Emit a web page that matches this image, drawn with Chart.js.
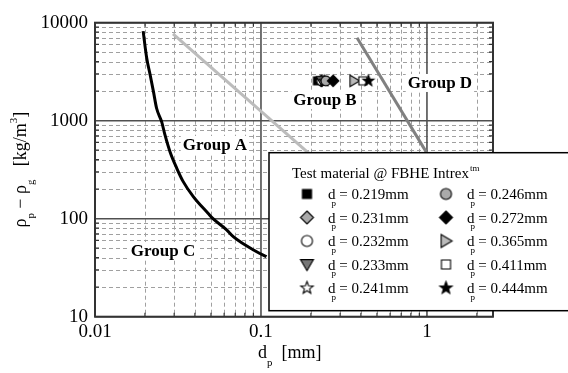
<!DOCTYPE html>
<html>
<head>
<meta charset="utf-8">
<script src="https://cdn.jsdelivr.net/npm/chart.js@4.4.1/dist/chart.umd.min.js"></script>
<style>
  html, body { margin: 0; padding: 0; background: #fff; }
</style>
</head>
<body>
<canvas id="grafico" width="568" height="373"></canvas>
<script>
// Límite entre grupos A y C (curva negra)
const limiteAC_x = [0.0195, 0.0205, 0.0215, 0.0225, 0.0235, 0.0252, 0.0264, 0.0283, 0.0311, 0.0340, 0.0391, 0.0481, 0.0514, 0.0621, 0.0681, 0.0942, 0.108];
const limiteAC_y = [8200, 4330, 2930, 1980, 1340, 977, 715, 483, 327, 239, 168, 113, 100, 77, 65.5, 46, 41];

// Límite entre grupos A y B (gris claro)
const limiteAB_x = [0.0295, 0.3];
const limiteAB_y = [7700, 243];

// Límite entre grupos B y D (gris oscuro)
const limiteBD_x = [0.379, 1.2];
const limiteBD_y = [7030, 280];

// Material de prueba @ FBHE Intrex
const diametros = [0.219, 0.231, 0.232, 0.233, 0.241, 0.246, 0.272, 0.365, 0.411, 0.444];
const densidades = [2550, 2550, 2550, 2550, 2550, 2550, 2550, 2550, 2550, 2550];
const etiquetasMaterial = ['0.219mm', '0.231mm', '0.232mm', '0.233mm', '0.241mm', '0.246mm', '0.272mm', '0.365mm', '0.411mm', '0.444mm'];

// Marcas de los ejes
const ticksX = [0.01, 0.1, 1];
const ticksY = [10, 100, 1000, 10000];

// Nombres de los grupos y su ancla (en valores de los ejes)
const gruposTexto = ['Group A', 'Group B', 'Group C', 'Group D'];
const gruposX = [0.0528, 0.243, 0.0257, 1.197];
const gruposY = [565, 1626, 46.8, 2426];

// Estilo de cada marcador
const formas = ['rect', 'rectRot', 'circle', 'triDown', 'star', 'circle', 'rectRot', 'triRight', 'rect', 'star'];
const rellenos = ['#000', '#aaa', '#fff', '#777', '#fff', '#aaa', '#000', '#bbb', '#fff', '#000'];

const FUENTE = '"Liberation Serif", "Times New Roman", serif';

function crearMarcador(tipo, relleno, tam) {
    const s = Math.ceil(tam + 4);
    const c = document.createElement('canvas');
    c.width = s; c.height = s;
    const g = c.getContext('2d');
    g.translate(s / 2, s / 2);
    g.fillStyle = relleno;
    g.strokeStyle = '#000';
    g.lineWidth = 1.1;
    const r = tam / 2;
    g.beginPath();
    switch (tipo) {
        case 'rect': g.rect(-r * 0.7, -r * 0.7, r * 1.4, r * 1.4); break;
        case 'rectRot': g.moveTo(0, -r); g.lineTo(r, 0); g.lineTo(0, r); g.lineTo(-r, 0); g.closePath(); break;
        case 'circle': g.arc(0, 0, r * 0.85, 0, Math.PI * 2); break;
        case 'triDown': g.moveTo(-r, -r * 0.75); g.lineTo(r, -r * 0.75); g.lineTo(0, r * 0.95); g.closePath(); break;
        case 'triRight': g.moveTo(-r * 0.75, -r); g.lineTo(r * 0.95, 0); g.lineTo(-r * 0.75, r); g.closePath(); break;
        case 'star':
            for (let i = 0; i < 10; i++) {
                const a = -Math.PI / 2 + i * Math.PI / 5;
                const rr = i % 2 === 0 ? r : r * 0.42;
                if (i === 0) g.moveTo(rr * Math.cos(a), rr * Math.sin(a));
                else g.lineTo(rr * Math.cos(a), rr * Math.sin(a));
            }
            g.closePath();
            break;
    }
    g.fill();
    g.stroke();
    return c;
}

const marcadoresGrafico = formas.map((f, i) => crearMarcador(f, rellenos[i], 11.5));
const marcadoresLeyenda = formas.map((f, i) => crearMarcador(f, rellenos[i], 13));

// Texto con subíndices / superíndices
function anchoCompuesto(ctx, partes, tam) {
    let w = 0;
    partes.forEach(p => {
        ctx.font = `${p.mod ? tam * 0.6 : tam}px ${FUENTE}`;
        if (!p.sinAvance) w += ctx.measureText(p.t).width;
    });
    return w;
}
function textoCompuesto(ctx, partes, x, y, tam) {
    let cx = x;
    partes.forEach(p => {
        const f = p.mod ? tam * 0.6 : tam;
        ctx.font = `${f}px ${FUENTE}`;
        const dy = p.mod === 'sub' ? tam * 0.45 : p.mod === 'sup' ? -tam * 0.5 : 0;
        ctx.fillText(p.t, cx + (p.dx || 0), y + dy);
        if (!p.sinAvance) cx += ctx.measureText(p.t).width;
    });
}

function puntos(xs, ys) {
    return xs.map((x, i) => ({ x, y: ys[i] }));
}

function menores(min, max) {
    const v = [];
    for (let d = min; d < max; d *= 10) {
        for (let k = 2; k <= 9; k++) {
            const val = +(k * d).toPrecision(3);
            if (val < max) v.push(val);
        }
    }
    return v;
}

// Rejilla y marcas hacia adentro
const rejilla = {
    id: 'rejilla',
    beforeDatasetsDraw(chart) {
        const { ctx, chartArea: a, scales: { x, y } } = chart;
        ctx.save();
        ctx.lineWidth = 1;
        ctx.strokeStyle = '#a0a0a0';
        ctx.setLineDash([4, 3]);
        menores(0.01, x.max).forEach(v => {
            const px = Math.round(x.getPixelForValue(v)) + 0.5;
            ctx.beginPath(); ctx.moveTo(px, a.top); ctx.lineTo(px, a.bottom); ctx.stroke();
        });
        menores(10, y.max).forEach(v => {
            const py = Math.round(y.getPixelForValue(v)) + 0.5;
            ctx.beginPath(); ctx.moveTo(a.left, py); ctx.lineTo(a.right, py); ctx.stroke();
        });
        ctx.setLineDash([]);
        ctx.lineWidth = 1.6;
        ctx.strokeStyle = '#505050';
        ticksX.forEach(v => {
            const px = x.getPixelForValue(v);
            ctx.beginPath(); ctx.moveTo(px, a.top); ctx.lineTo(px, a.bottom); ctx.stroke();
        });
        ticksY.forEach(v => {
            const py = y.getPixelForValue(v);
            ctx.beginPath(); ctx.moveTo(a.left, py); ctx.lineTo(a.right, py); ctx.stroke();
        });
        ctx.restore();
    },
    afterDatasetsDraw(chart) {
        const { ctx, chartArea: a, scales: { x, y } } = chart;
        ctx.save();
        // marcas menores hacia adentro
        ctx.strokeStyle = '#333';
        ctx.lineWidth = 1.2;
        menores(0.01, x.max).forEach(v => {
            const px = x.getPixelForValue(v);
            ctx.beginPath();
            ctx.moveTo(px, a.top); ctx.lineTo(px, a.top + 4);
            ctx.moveTo(px, a.bottom); ctx.lineTo(px, a.bottom - 4);
            ctx.stroke();
        });
        menores(10, y.max).forEach(v => {
            const py = y.getPixelForValue(v);
            ctx.beginPath();
            ctx.moveTo(a.left, py); ctx.lineTo(a.left + 4, py);
            ctx.moveTo(a.right, py); ctx.lineTo(a.right - 4, py);
            ctx.stroke();
        });
        // borde
        ctx.lineWidth = 2;
        ctx.strokeStyle = '#333';
        ctx.strokeRect(a.left, a.top, a.right - a.left, a.bottom - a.top);

        // nombres de grupos
        ctx.font = `bold 17px ${FUENTE}`;
        ctx.textAlign = 'center';
        ctx.textBaseline = 'middle';
        gruposTexto.forEach((t, i) => {
            const px = x.getPixelForValue(gruposX[i]);
            const py = y.getPixelForValue(gruposY[i]);
            const w = ctx.measureText(t).width;
            ctx.fillStyle = '#fff';
            ctx.fillRect(px - w / 2 - 2, py - 9, w + 4, 18);
            ctx.fillStyle = '#000';
            ctx.fillText(t, px, py + 1);
        });
        ctx.restore();
    },
    afterDraw(chart) {
        const { ctx, chartArea: a } = chart;
        ctx.save();
        ctx.fillStyle = '#000';
        ctx.textAlign = 'left';
        ctx.textBaseline = 'alphabetic';

        // leyenda
        const lx = 269, ly = 152.7, lw = 320, lh = 158;
        ctx.fillStyle = '#fff';
        ctx.fillRect(lx, ly, lw, lh);
        ctx.strokeStyle = '#000';
        ctx.lineWidth = 1.5;
        ctx.strokeRect(lx, ly, lw, lh);
        ctx.fillStyle = '#000';
        textoCompuesto(ctx, [{ t: 'Test material @ FBHE Intrex' }, { t: 'tm', mod: 'sup', dx: 1 }], 292, 178, 15);
        diametros.forEach((d, i) => {
            const col = i < 5 ? 0 : 1;
            const fila = i % 5;
            const mx = col === 0 ? 307 : 446;
            const tx = col === 0 ? 328 : 467;
            const my = 194 + fila * 23.5;
            const m = marcadoresLeyenda[i];
            ctx.drawImage(m, mx - m.width / 2, my - m.height / 2);
            textoCompuesto(ctx, [
                { t: 'd' },
                { t: 'p', mod: 'sub', dx: -4, sinAvance: true },
                { t: ' = ' + etiquetasMaterial[i] }
            ], tx, my + 5, 15);
        });

        // título eje x
        textoCompuesto(ctx, [{ t: 'd' }, { t: 'p', mod: 'sub' }, { t: '  [mm]' }], 258, 358, 18);

        // título eje y (girado)
        const partesY = [
            { t: 'ρ' }, { t: 'p', mod: 'sub' }, { t: ' − ' }, { t: 'ρ' }, { t: 'g', mod: 'sub' },
            { t: '   [kg/m' }, { t: '3', mod: 'sup' }, { t: ']' }
        ];
        const wy = anchoCompuesto(ctx, partesY, 18);
        ctx.translate(26, (a.top + a.bottom) / 2);
        ctx.rotate(-Math.PI / 2);
        textoCompuesto(ctx, partesY, -wy / 2, 0, 18);
        ctx.restore();
    }
};

const conjuntos = [
    { data: puntos(limiteAC_x, limiteAC_y), borderColor: '#000', borderWidth: 3, cubicInterpolationMode: 'monotone' },
    { data: puntos(limiteAB_x, limiteAB_y), borderColor: '#bcbcbc', borderWidth: 3 },
    { data: puntos(limiteBD_x, limiteBD_y), borderColor: '#808080', borderWidth: 3 }
].map(c => Object.assign({ showLine: true, pointRadius: 0, fill: false, order: 1000 }, c));

// los marcadores posteriores quedan encima
diametros.forEach((d, i) => {
    conjuntos.push({
        data: [{ x: d, y: densidades[i] }],
        showLine: false,
        pointStyle: marcadoresGrafico[i],
        pointRadius: 6,
        order: 100 - i
    });
});

const fuenteTicks = { family: FUENTE, size: 19 };

new Chart(document.getElementById('grafico'), {
    type: 'scatter',
    data: { datasets: conjuntos },
    options: {
        responsive: false,
        animation: false,
        layout: { padding: { top: 22.7, right: 75, left: 0, bottom: 0 } },
        plugins: { legend: { display: false }, tooltip: { enabled: false } },
        scales: {
            x: {
                type: 'logarithmic',
                min: 0.01,
                max: 2.5,
                afterBuildTicks: s => { s.ticks = ticksX.map(v => ({ value: v })); },
                afterFit: s => { s.height = 373 - 316.7; },
                grid: { display: false, drawTicks: false },
                border: { display: false },
                ticks: { font: fuenteTicks, color: '#000', padding: 4, maxRotation: 0, autoSkip: false, callback: v => String(v) }
            },
            y: {
                type: 'logarithmic',
                min: 10,
                max: 10000,
                afterBuildTicks: s => { s.ticks = ticksY.map(v => ({ value: v })); },
                afterFit: s => { s.width = 95; },
                grid: { display: false, drawTicks: false },
                border: { display: false },
                ticks: { font: fuenteTicks, color: '#000', padding: 7, autoSkip: false, callback: v => String(v) }
            }
        }
    },
    plugins: [rejilla]
});
</script>
</body>
</html>
